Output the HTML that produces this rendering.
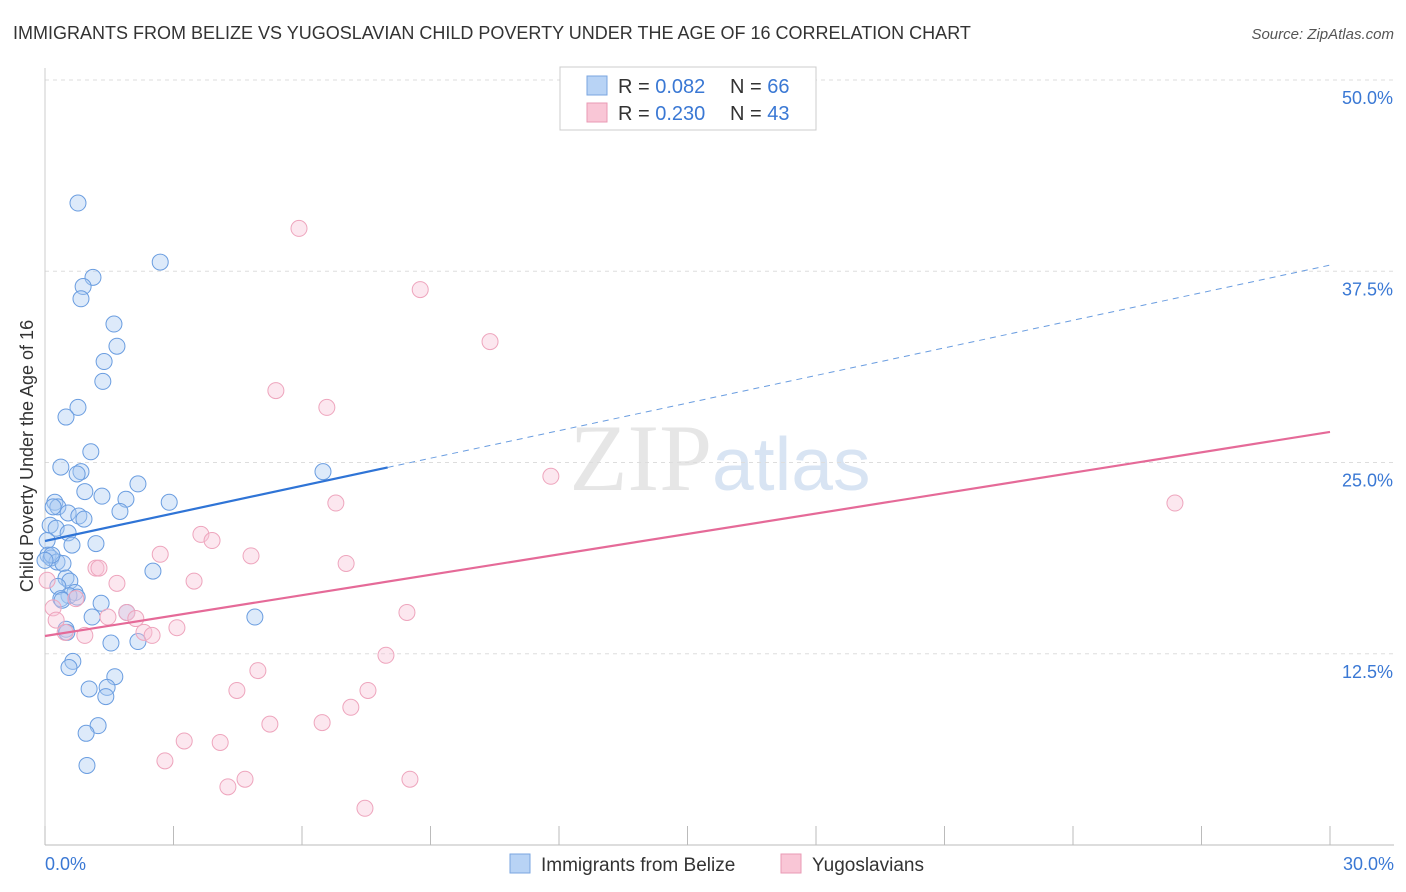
<!DOCTYPE html>
<html><head><meta charset="utf-8"><style>
body{margin:0;background:#fff;font-family:"Liberation Sans",sans-serif;}
svg{display:block}
</style></head><body>
<svg id="c" width="1406" height="892">
<text x="13" y="39" font-size="18" fill="#333">IMMIGRANTS FROM BELIZE VS YUGOSLAVIAN CHILD POVERTY UNDER THE AGE OF 16 CORRELATION CHART</text>
<text x="1394" y="39" font-size="15" fill="#555" font-style="italic" text-anchor="end">Source: ZipAtlas.com</text>
<text x="33" y="456" font-size="18" fill="#333" text-anchor="middle" transform="rotate(-90 33 456)">Child Poverty Under the Age of 16</text>
<text x="720" y="490" font-size="95" fill="#e6e6e6" text-anchor="middle" font-family="Liberation Serif">ZIP<tspan fill="#d8e4f3" font-family="Liberation Sans" font-size="75">atlas</tspan></text>
<g id="grid"></g><g id="axes"></g><g id="pts"></g><g id="trend"></g>
<g>
<rect x="560" y="67" width="256" height="63" fill="#fff" stroke="#ccc"/>
<rect x="587" y="76" width="20" height="19" fill="#b8d3f5" stroke="#7aa6e0"/>
<rect x="587" y="103" width="20" height="19" fill="#f9c6d6" stroke="#e99ab4"/>
<text x="618" y="93" font-size="20" fill="#333">R = <tspan fill="#3a78d4">0.082</tspan></text>
<text x="730" y="93" font-size="20" fill="#333">N = <tspan fill="#3a78d4">66</tspan></text>
<text x="618" y="120" font-size="20" fill="#333">R = <tspan fill="#3a78d4">0.230</tspan></text>
<text x="730" y="120" font-size="20" fill="#333">N = <tspan fill="#3a78d4">43</tspan></text>
</g>
<g>
<rect x="510" y="854" width="20" height="19" fill="#b8d3f5" stroke="#7aa6e0"/>
<text x="541" y="871" font-size="19" fill="#333">Immigrants from Belize</text>
<rect x="781" y="854" width="20" height="19" fill="#f9c6d6" stroke="#e99ab4"/>
<text x="812" y="871" font-size="19" fill="#333">Yugoslavians</text>
</g>
</svg>
<script>
const yTicks=[12.5,25,37.5,50];
const yTickLabels=["12.5%","25.0%","37.5%","50.0%"];
const blueX=[0.77,2.69,1.12,0.89,0.84,1.61,1.68,1.38,1.35,0.77,0.49,1.07,0.37,0.84,0.75,0.93,1.33,1.89,2.17,0.23,0.30,2.90,1.75,0.54,0.79,0.91,0.12,0.26,0.54,0.63,1.19,0.05,0.07,0.14,0.28,0.42,2.52,0.49,0.58,0.30,0.70,0.56,0.75,0.37,1.31,1.91,1.10,4.90,0.49,0.51,1.54,2.17,0.65,0.56,1.63,1.03,1.45,1.42,1.24,0.96,0.98,6.49,0.16,0,0.19,0.40];
const blueY=[41.96,38.1,37.1,36.5,35.7,34.05,32.6,31.6,30.3,28.6,27.97,25.7,24.7,24.4,24.25,23.1,22.8,22.6,23.6,22.4,22.1,22.4,21.8,21.7,21.5,21.3,20.9,20.7,20.4,19.6,19.7,19.9,18.95,18.76,18.5,18.4,17.9,17.45,17.25,16.9,16.5,16.3,16.2,16.1,15.8,15.2,14.9,14.9,14.1,13.9,13.2,13.3,12.0,11.6,11.0,10.2,10.3,9.7,7.8,7.3,5.2,24.4,18.95,18.6,22.1,16.0];
const pinkX=[5.93,8.76,10.39,5.39,6.58,11.81,26.38,6.79,3.64,3.90,2.69,4.81,7.03,1.19,1.26,1.68,3.48,0.05,0.19,8.45,1.91,2.12,1.47,0.26,0.72,0.47,3.08,2.31,2.50,0.93,7.96,4.97,4.48,7.54,7.14,5.25,6.47,3.25,4.09,2.80,4.67,8.52,4.27,7.47];
const pinkY=[40.3,36.3,32.9,29.7,28.6,24.1,22.35,22.35,20.3,19.9,19.0,18.9,18.4,18.1,18.1,17.1,17.25,17.3,15.5,15.2,15.2,14.8,14.9,14.7,16.1,13.9,14.2,13.9,13.7,13.7,12.4,11.4,10.1,10.1,9.0,7.9,8.0,6.8,6.7,5.5,4.3,4.3,3.8,2.4];
const blueTrend=[19.87,37.9];
const pinkTrend=[13.66,27.0];
const X=v=>45+v*(1285/30), Y=v=>845-v*15.3;
const NS="http://www.w3.org/2000/svg";
function mk(t,a,p){const e=document.createElementNS(NS,t);for(const k in a)e.setAttribute(k,a[k]);p.appendChild(e);return e;}
const grid=document.getElementById('grid'),axes=document.getElementById('axes');
yTicks.forEach((t,i)=>{
 const l=mk('line',{x1:45,x2:1394,y1:Y(t),y2:Y(t),stroke:'#ddd','stroke-dasharray':'4,4'},grid);
 
 
 const tx=mk('text',{x:1393,y:Y(t)+24,'font-size':18,fill:'#3a78d4','text-anchor':'end'},axes);
 tx.textContent=yTickLabels[i];
 
 
});
const al=mk('line',{x1:45,x2:1394,y1:845,y2:845,stroke:'#bbb'},axes);


const yl=mk('line',{x1:45,x2:45,y1:68,y2:845,stroke:'#ccc'},axes);


for(let i=0;i<=10;i++){const t=mk('line',{x1:X(i*3),x2:X(i*3),y1:826,y2:845,stroke:'#bbb'},axes);
 
 }
[[0,"0.0%","start",45],[30,"30.0%","end",1394]].forEach(d=>{const t=mk('text',{x:d[3],y:870,'font-size':18,fill:'#3a78d4','text-anchor':d[2]},axes);t.textContent=d[1];
 
 });
const pts=document.getElementById('pts');
blueX.forEach((v,i)=>{const c=mk('circle',{cx:X(v),cy:Y(blueY[i]),r:8,fill:'rgba(170,202,242,0.4)',stroke:'#6a9de0','stroke-width':1},pts);
 
 });
pinkX.forEach((v,i)=>{const c=mk('circle',{cx:X(v),cy:Y(pinkY[i]),r:8,fill:'rgba(248,196,214,0.4)',stroke:'#eea5bd','stroke-width':1},pts);
 
 });
const tr=document.getElementById('trend');
const bAt=x=>blueTrend[0]+(blueTrend[1]-blueTrend[0])*x/30;
const b1=mk('line',{x1:X(0),y1:Y(bAt(0)),x2:X(8),y2:Y(bAt(8)),stroke:'#2f74d6','stroke-width':2.2},tr);


const b2=mk('line',{x1:X(8),y1:Y(bAt(8)),x2:X(30),y2:Y(bAt(30)),stroke:'#6a9de0','stroke-width':1,'stroke-dasharray':'6,5'},tr);


const p1=mk('line',{x1:X(0),y1:Y(pinkTrend[0]),x2:X(30),y2:Y(pinkTrend[1]),stroke:'#e56a98','stroke-width':2.2},tr);


</script>
</body></html>
